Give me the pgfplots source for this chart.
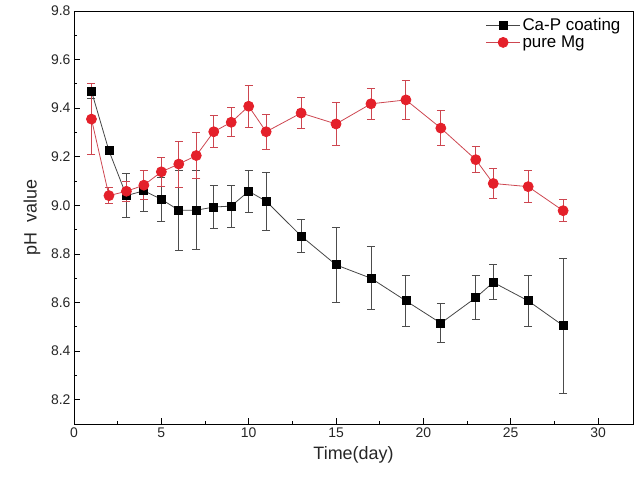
\documentclass[border=0pt]{standalone}
\usepackage{pgfplots}
\pgfplotsset{compat=1.18}
\usepackage{fontspec}
\setmainfont{Liberation Sans}
\definecolor{mgred}{RGB}{228,32,42}
\definecolor{mgline}{RGB}{205,70,80}
\definecolor{cpline}{RGB}{70,70,70}
\begin{document}
\begin{tikzpicture}
\begin{axis}[
  name=ax,
  scale only axis,
  width=559bp, height=413bp,
  xmin=0, xmax=32, ymin=8.1, ymax=9.8,
  xtick={0,5,...,30},
  ytick={8.2,8.4,...,9.81},
  minor x tick num=1, minor y tick num=1,
  xtick pos=left, ytick pos=left,
  tick align=inside,
  major tick length=6bp, minor tick length=3.5bp,
  every tick/.style={black, line width=0.8pt},
  axis line style={line width=0.9pt},
  /pgf/number format/assume math mode=true,
  yticklabel style={/pgf/number format/.cd, fixed, fixed zerofill, precision=1},
  xticklabel style={/pgf/number format/.cd, fixed},
  tick label style={font=\fontsize{14}{16}\selectfont, color=black!85},
  label style={font=\fontsize{18}{20}\selectfont, color=black!85},
  xlabel={Time(day)},
  ylabel={pH\ \ value},
  xlabel style={yshift=-2bp},
  ylabel style={yshift=4bp},
  legend style={at={(0.985,0.993)}, anchor=north east, draw=none, fill=none,
    font=\fontsize{17}{20}\selectfont, inner sep=2bp},
  legend cell align=left,
  legend image code/.code={\draw[#1, mark repeat=2, mark phase=2] plot coordinates {(0bp,0bp) (17bp,0bp) (34bp,0bp)};},
]
\addplot[cpline, line width=0.8pt, mark=square*, mark size=4bp,
  mark options={fill=black, draw=black, solid},
  error bars/.cd, y dir=both, y explicit,
  error bar style={line width=0.9pt, color=black!70},
  error mark options={rotate=90, mark size=4bp, line width=0.9pt, color=black!70}]
coordinates {
(1,9.47) +- (0,0.03)
(2,9.225) +- (0,0.015)
(3,9.04) +- (0,0.09)
(4,9.06) +- (0,0.085)
(5,9.025) +- (0,0.09)
(6,8.98) +- (0,0.165)
(7,8.98) +- (0,0.162)
(8,8.993) +- (0,0.09)
(9,8.997) +- (0,0.086)
(10,9.058) +- (0,0.087)
(11,9.017) +- (0,0.12)
(13,8.874) +- (0,0.068)
(15,8.755) +- (0,0.155)
(17,8.70) +- (0,0.13)
(19,8.607) +- (0,0.105)
(21,8.515) +- (0,0.08)
(23,8.62) +- (0,0.09)
(24,8.683) +- (0,0.072)
(26,8.607) +- (0,0.105)
(28,8.505) +- (0,0.278)
};
\addlegendentry{Ca-P coating}
\addplot[mgline, line width=0.8pt, mark=*, mark size=5bp,
  mark options={fill=mgred, draw=mgred, solid},
  error bars/.cd, y dir=both, y explicit,
  error bar style={line width=0.9pt, color=mgline},
  error mark options={rotate=90, mark size=4bp, line width=0.9pt, color=mgline}]
coordinates {
(1,9.355) +- (0,0.145)
(2,9.04) +- (0,0.034)
(3,9.058) +- (0,0.04)
(4,9.083) +- (0,0.06)
(5,9.138) +- (0,0.06)
(6,9.17) +- (0,0.095)
(7,9.205) +- (0,0.095)
(8,9.303) +- (0,0.065)
(9,9.342) +- (0,0.06)
(10,9.408) +- (0,0.087)
(11,9.303) +- (0,0.073)
(13,9.38) +- (0,0.063)
(15,9.335) +- (0,0.09)
(17,9.418) +- (0,0.065)
(19,9.434) +- (0,0.08)
(21,9.318) +- (0,0.073)
(23,9.188) +- (0,0.053)
(24,9.09) +- (0,0.062)
(26,9.077) +- (0,0.067)
(28,8.978) +- (0,0.046)
};
\addlegendentry{pure Mg}
\end{axis}
\path[use as bounding box] (ax.south west) ++(-74bp,-62bp) rectangle ([shift={(7bp,11bp)}]ax.north east);
\end{tikzpicture}
\end{document}
